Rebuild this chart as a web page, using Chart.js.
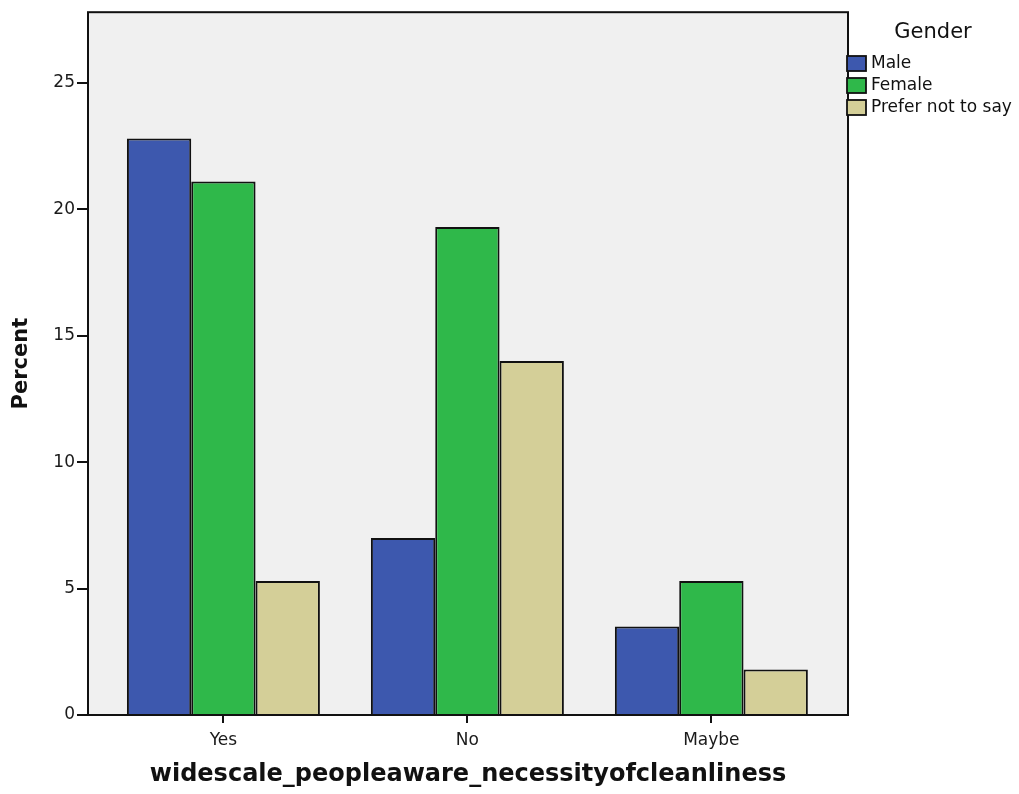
<!DOCTYPE html>
<html>
<head>
<meta charset="utf-8">
<script src="https://cdn.jsdelivr.net/npm/chart.js@4/dist/chart.umd.min.js"></script>
<style>
    html, body { margin: 0; padding: 0; background: #fff; }
    #wrap { width: 1019px; height: 794px; }
</style>
</head>
<body>
<div id="wrap"><canvas id="chartCanvas"></canvas></div>
<script>
// values (percent)
const categories = ['Yes', 'No', 'Maybe'];
const genders = ['Male', 'Female', 'Prefer not to say'];
const male = [22.8, 7.0, 3.5];
const female = [21.1, 19.3, 5.3];
const preferNot = [5.3, 14.0, 1.8];
const yTicks = [0, 5, 10, 15, 20, 25];

const colors = ['#3d58ae', '#2fb84a', '#d4cf98'];
const FONT = 'DejaVu Sans';

// grey panel + black frame like the SPSS output
const framePlugin = {
    id: 'frame',
    beforeDatasetsDraw(chart) {
        const { ctx, chartArea: a } = chart;
        ctx.save();
        ctx.fillStyle = '#f0f0f0';
        ctx.fillRect(a.left, a.top, a.right - a.left, a.bottom - a.top);
        ctx.restore();
    },
    afterDatasetsDraw(chart) {
        const { ctx, chartArea: a } = chart;
        ctx.save();
        ctx.strokeStyle = '#111';
        ctx.lineWidth = 2;
        ctx.strokeRect(a.left, a.top, a.right - a.left, a.bottom - a.top);
        ctx.restore();
    }
};

// legend on the right, drawn from the datasets
const legendPlugin = {
    id: 'sideLegend',
    afterDraw(chart) {
        const { ctx, chartArea: a } = chart;
        ctx.save();
        ctx.fillStyle = '#111';
        ctx.font = '21px "' + FONT + '"';
        ctx.textAlign = 'center';
        ctx.textBaseline = 'middle';
        ctx.fillText('Gender', a.right + 85, 33);
        ctx.font = '17px "' + FONT + '"';
        ctx.textAlign = 'left';
        chart.data.datasets.forEach((ds, i) => {
            const y = 56 + i * 22;
            ctx.fillStyle = ds.backgroundColor;
            ctx.fillRect(a.right - 1, y, 19, 15);
            ctx.strokeStyle = '#111';
            ctx.lineWidth = 1.8;
            ctx.strokeRect(a.right - 1, y, 19, 15);
            ctx.fillStyle = '#111';
            ctx.fillText(ds.label, a.right + 23, y + 8);
        });
        ctx.restore();
    }
};

const ctx = document.getElementById('chartCanvas').getContext('2d');
new Chart(ctx, {
    type: 'bar',
    data: {
        labels: categories,
        datasets: [male, female, preferNot].map((vals, i) => ({
            label: genders[i],
            data: vals,
            backgroundColor: colors[i],
            borderColor: '#111',
            borderWidth: 2,
            categoryPercentage: 0.791,
            barPercentage: 1.0
        }))
    },
    options: {
        responsive: true,
        maintainAspectRatio: false,
        animation: false,
        layout: { padding: { top: 10, right: 171, left: 0, bottom: 0 } },
        plugins: { legend: { display: false }, tooltip: { enabled: false } },
        scales: {
            x: {
                offset: true,
                grid: { display: true, drawOnChartArea: false, offset: false, tickLength: 8, color: '#111', lineWidth: 2 },
                border: { display: false },
                ticks: { color: '#1a1a1a', font: { family: FONT, size: 17 }, padding: 7 },
                title: { display: true, text: 'widescale_peopleaware_necessityofcleanliness', color: '#111',
                         font: { family: FONT, size: 24, weight: 'bold' }, padding: { top: 0, bottom: 5 } },
                afterFit: s => { s.height = 79; },
                // SPSS leaves a bit more room beside the outer groups
                afterBuildTicks: s => { s._startValue = -0.555; s._valueRange = 3.115; }
            },
            y: {
                min: 0,
                max: 27.8,
                grid: { display: true, drawOnChartArea: false, tickLength: 11, color: '#111', lineWidth: 2 },
                border: { display: false },
                ticks: { color: '#1a1a1a', font: { family: FONT, size: 17 }, padding: 2, stepSize: 5, includeBounds: false },
                afterBuildTicks: s => { s.ticks = yTicks.map(v => ({ value: v })); },
                title: { display: true, text: 'Percent', color: '#111',
                         font: { family: FONT, size: 21, weight: 'bold' }, padding: { top: 9, bottom: 0 } },
                afterFit: s => { s.width = 88; }
            }
        }
    },
    plugins: [framePlugin, legendPlugin]
});
</script>
</body>
</html>
